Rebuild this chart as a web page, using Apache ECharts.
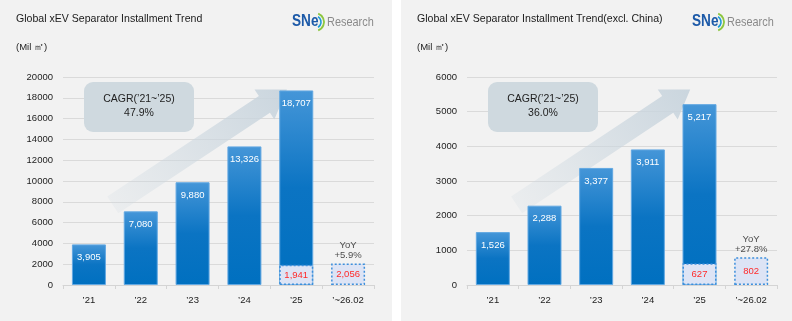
<!DOCTYPE html>
<html>
<head>
<meta charset="utf-8">
<script src="https://cdn.jsdelivr.net/npm/echarts@6/dist/echarts.min.js"></script>
<style>
  html, body { margin: 0; padding: 0; background: #ffffff; }
  #chart { width: 792px; height: 321px; }
</style>
</head>
<body>
<div id="chart"></div>
<script>
// Category labels shared by both panels
const categories = ['\u201921', '\u201922', '\u201923', '\u201924', '\u201925', '\u2019~26.02'];

// Global installments (Mil m²)
const globalValues = [3905, 7080, 9880, 13326, 18707, null];
const globalPartial = [null, null, null, null, 1941, 2056];
const globalYoY = '+5.9%';
const globalCagr = '47.9%';

// Installments excluding China (Mil m²)
const exChinaValues = [1526, 2288, 3377, 3911, 5217, null];
const exChinaPartial = [null, null, null, null, 627, 802];
const exChinaYoY = '+27.8%';
const exChinaCagr = '36.0%';

const titles = ['Global xEV Separator Installment Trend', 'Global xEV Separator Installment Trend(excl. China)'];
const unitLabel = '(Mil \u33A1)';
const cagrLabel = 'CAGR(\u201921~\u201925)';

const FONT = '"Liberation Sans", Arial, sans-serif';

// Panel / grid geometry
const panels = [
  { x: 0, w: 392, grid: { left: 63, top: 77, width: 311, height: 208 }, max: 20000, step: 2000 },
  { x: 401, w: 391, grid: { left: 467, top: 77, width: 310, height: 208 }, max: 6000, step: 1000 }
];

const chart = echarts.init(document.getElementById('chart'), null, { renderer: 'canvas' });

const barGradient = new echarts.graphic.LinearGradient(0, 0, 0, 1, [
  { offset: 0, color: '#4596d8' },
  { offset: 0.5, color: '#0b74c3' },
  { offset: 1, color: '#0070c0' }
]);

const fmt = v => v.toLocaleString('en-US');

function panelSeries(idx, values, partial, yoy) {
  const yoyData = partial.map((v, i) => (i === partial.length - 1 ? v : null));
  return [
    {
      type: 'bar', xAxisIndex: idx, yAxisIndex: idx,
      data: values, barWidth: 34, barGap: '-100%', z: 3,
      itemStyle: { color: barGradient, borderColor: '#62a8e2', borderWidth: 1 },
      label: {
        show: true, position: 'insideTop', distance: 8, color: '#ffffff',
        fontFamily: FONT, fontSize: 9.5, formatter: p => fmt(p.value)
      }
    },
    {
      type: 'bar', xAxisIndex: idx, yAxisIndex: idx,
      data: partial, barWidth: 34, barGap: '-100%', z: 4,
      itemStyle: { color: '#dde4f5', borderColor: '#3d8fdc', borderWidth: 1.5, borderType: [2, 2] },
      label: {
        show: true, position: 'inside', color: '#ff2a2a',
        fontFamily: FONT, fontSize: 9.5, formatter: p => fmt(p.value)
      }
    },
    {
      type: 'scatter', xAxisIndex: idx, yAxisIndex: idx,
      data: yoyData, symbolSize: 0, z: 5,
      label: {
        show: true, position: 'top', distance: 3, color: '#222',
        fontFamily: FONT, fontSize: 9.5, lineHeight: 10, align: 'center',
        formatter: () => 'YoY\n' + yoy
      }
    }
  ];
}

function axisPair(idx) {
  const p = panels[idx];
  return {
    x: {
      type: 'category', gridIndex: idx, data: categories,
      axisLine: { lineStyle: { color: '#d4d4d4' } },
      axisTick: { show: true, length: 4, lineStyle: { color: '#d4d4d4' } },
      axisLabel: { color: '#222', fontFamily: FONT, fontSize: 9.5, margin: 10 }
    },
    y: {
      type: 'value', gridIndex: idx, min: 0, max: p.max, interval: p.step,
      axisLine: { show: false }, axisTick: { show: false },
      axisLabel: { color: '#222', fontFamily: FONT, fontSize: 9.5, margin: 10, formatter: v => String(v) },
      splitLine: { lineStyle: { color: '#dadada', width: 1 } }
    }
  };
}

// Decorative trend arrow laid out relative to the grid box
function trendArrow(g) {
  const tail = [g.left + 0.16 * g.width, g.top + 0.615 * g.height];
  const tip = [g.left + 0.72 * g.width, g.top + 0.06 * g.height];
  const dx = tip[0] - tail[0], dy = tip[1] - tail[1];
  const len = Math.sqrt(dx * dx + dy * dy);
  const ux = dx / len, uy = dy / len;
  const nx = -uy, ny = ux;
  const headLen = 27, shaftHalf = 10, headHalf = 18;
  const base = [tip[0] - ux * headLen, tip[1] - uy * headLen];
  const pts = [
    [tail[0] + nx * shaftHalf, tail[1] + ny * shaftHalf],
    [base[0] + nx * shaftHalf, base[1] + ny * shaftHalf],
    [base[0] + nx * headHalf, base[1] + ny * headHalf],
    tip,
    [base[0] - nx * headHalf, base[1] - ny * headHalf],
    [base[0] - nx * shaftHalf, base[1] - ny * shaftHalf],
    [tail[0] - nx * shaftHalf, tail[1] - ny * shaftHalf]
  ];
  return {
    type: 'polygon', z: 1, silent: true,
    shape: { points: pts },
    style: {
      fill: new echarts.graphic.LinearGradient(tail[0], tail[1], tip[0], tip[1], [
        { offset: 0, color: 'rgba(205,216,224,0.2)' },
        { offset: 1, color: 'rgba(200,212,221,0.95)' }
      ], true)
    }
  };
}

function logo(rightEdge) {
  const x0 = rightEdge - 82;
  return [
    { type: 'text', z: 10, x: x0, y: 22, scaleX: 0.85,
      style: { text: 'SNe', font: 'bold 16px ' + FONT, fill: '#1d5aa8', textVerticalAlign: 'middle' } },
    { type: 'arc', z: 10, shape: { cx: x0 + 23, cy: 22, r: 6, startAngle: -Math.PI / 3, endAngle: Math.PI / 3 },
      style: { stroke: '#1e9bd7', lineWidth: 1.6, fill: null } },
    { type: 'arc', z: 10, shape: { cx: x0 + 23, cy: 22, r: 9, startAngle: -Math.PI / 2.6, endAngle: Math.PI / 2.6 },
      style: { stroke: '#8cc63f', lineWidth: 1.8, fill: null } },
    { type: 'text', z: 10, x: x0 + 35, y: 22, scaleX: 0.84,
      style: { text: 'Research', font: '13px ' + FONT, fill: '#8a8a8a', textVerticalAlign: 'middle' } }
  ];
}

function cagrBox(g, value) {
  return [
    { type: 'rect', z: 2, silent: true,
      shape: { x: g.left + 21, y: g.top + 5, width: 110, height: 50, r: 9 },
      style: { fill: '#cfd9df' } },
    { type: 'text', z: 6, x: g.left + 76, y: g.top + 22,
      style: { text: cagrLabel, font: '10.5px ' + FONT, fill: '#222', textAlign: 'center', textVerticalAlign: 'middle' } },
    { type: 'text', z: 6, x: g.left + 76, y: g.top + 36,
      style: { text: value, font: '10.5px ' + FONT, fill: '#222', textAlign: 'center', textVerticalAlign: 'middle' } }
  ];
}

const graphics = [];
panels.forEach((p, i) => {
  graphics.push({ type: 'rect', z: -10, silent: true, shape: { x: p.x, y: 0, width: p.w, height: 321 }, style: { fill: '#f2f2f2' } });
  graphics.push({ type: 'text', z: 10, x: p.x + 16, y: 19, scaleX: 0.96,
    style: { text: titles[i], font: '11px ' + FONT, fill: '#1a1a1a', textVerticalAlign: 'middle' } });
  graphics.push({ type: 'text', z: 10, x: p.x + 16, y: 47,
    style: { text: unitLabel, font: '9.5px ' + FONT, fill: '#222', textVerticalAlign: 'middle' } });
  graphics.push(...logo(p.x + p.w - 18));
  graphics.push(trendArrow(p.grid));
  graphics.push(...cagrBox(p.grid, i === 0 ? globalCagr : exChinaCagr));
});

const a0 = axisPair(0), a1 = axisPair(1);

chart.setOption({
  backgroundColor: '#ffffff',
  animation: false,
  textStyle: { fontFamily: FONT },
  grid: panels.map(p => Object.assign({ containLabel: false }, p.grid)),
  xAxis: [a0.x, a1.x],
  yAxis: [a0.y, a1.y],
  graphic: { elements: graphics },
  series: [
    ...panelSeries(0, globalValues, globalPartial, globalYoY),
    ...panelSeries(1, exChinaValues, exChinaPartial, exChinaYoY)
  ]
});
</script>
</body>
</html>
